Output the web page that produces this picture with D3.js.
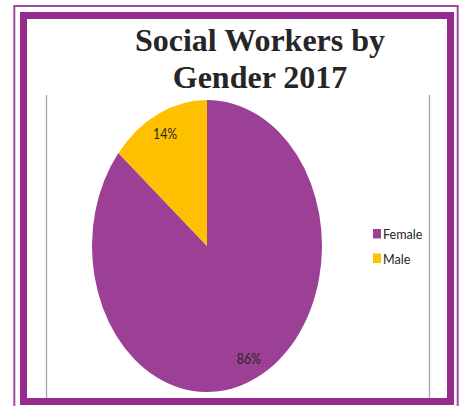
<!DOCTYPE html>
<html><head><meta charset="utf-8">
<script src="https://cdn.jsdelivr.net/npm/d3@7"></script>
<style>body{margin:0;background:#fff}svg{display:block}</style>
</head><body>
<script>
const categories = ["Female", "Male"];
const values = [86, 14];
const labels = ["86%", "14%"];
const titleLines = ["Social Workers by", "Gender 2017"];
const colors = ["#9C4096", "#FFC000"];

const W = 462, H = 406;
const svg = d3.select("body").append("svg").attr("width", W).attr("height", H);
svg.append("rect").attr("width", W).attr("height", H).attr("fill", "#fff");

// frame
svg.append("rect").attr("x", 14.3).attr("y", 6).attr("width", 443.4).attr("height", 420)
  .attr("fill", "none").attr("stroke", "#A4479F").attr("stroke-width", 2);
svg.append("rect").attr("x", 23.5).attr("y", 15.5).attr("width", 427).attr("height", 386)
  .attr("fill", "none").attr("stroke", "#962B8E").attr("stroke-width", 7);

// plot area side lines
[46.5, 429.5].forEach(x => svg.append("line").attr("x1", x).attr("x2", x).attr("y1", 95).attr("y2", 398)
  .attr("stroke", "#A6A6A6").attr("stroke-width", 1.3));

// title
svg.append("text").attr("x", 260).attr("y", 51).attr("text-anchor", "middle")
  .attr("font-family", "'Liberation Serif','Times New Roman',serif").attr("font-weight", "bold")
  .attr("font-size", 32).attr("fill", "#262626")
  .selectAll("tspan").data(titleLines).join("tspan")
  .attr("x", 260).attr("dy", (d, i) => i ? 37 : 0).text(d => d);

// pie
const cx = 207, cy = 246, rx = 115, ry = 146;
const pie = d3.pie().sort(null).value(d => d)(values);
const arc = d3.arc().innerRadius(0).outerRadius(ry);
const g = svg.append("g").attr("transform", `translate(${cx},${cy}) scale(${rx / ry},1)`);
g.selectAll("path").data(pie).join("path").attr("d", arc).attr("fill", (d, i) => colors[i]);

const labelArc = d3.arc().innerRadius(ry * 0.855).outerRadius(ry * 0.855);
svg.append("g").selectAll("text").data(pie).join("text")
  .attr("transform", d => `translate(${cx + labelArc.centroid(d)[0] * rx / ry},${cy + labelArc.centroid(d)[1] + 5.5}) scale(0.82,1)`)
  .attr("text-anchor", "middle")
  .attr("font-family", "Lato,sans-serif")
  .attr("font-size", 15).attr("fill", "#262626")
  .text((d, i) => labels[i]);

// legend
const lg = svg.append("g").attr("transform", "translate(373,229)");
const items = lg.selectAll("g").data(categories).join("g").attr("transform", (d, i) => `translate(0,${i * 24.5})`);
items.append("rect").attr("width", 8).attr("height", 9.5).attr("fill", (d, i) => colors[i]);
items.append("text").attr("transform", "translate(10,10) scale(0.9,1)").attr("font-size", 14)
  .attr("font-family", "Lato,sans-serif").attr("fill", "#262626")
  .text(d => d);
</script>
</body></html>
